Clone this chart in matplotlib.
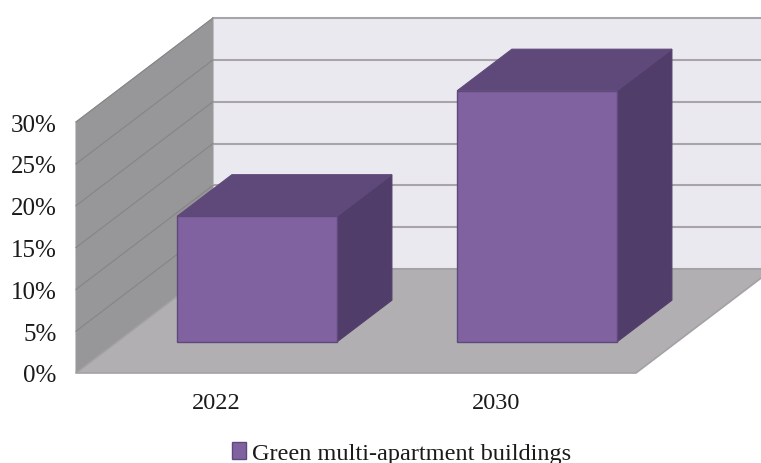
import matplotlib
matplotlib.use("Agg")
import matplotlib.pyplot as plt
from matplotlib.patches import Patch, Polygon

plt.rcParams["font.family"] = ["Liberation Serif", "DejaVu Serif"]

categories = ["2022", "2030"]
values = [15, 30]
series_name = "Green multi-apartment buildings"
y_ticks = [0, 5, 10, 15, 20, 25, 30]
y_labels = ["0%", "5%", "10%", "15%", "20%", "25%", "30%"]

W, H = 761, 464
fig = plt.figure(figsize=(W / 100, H / 100), dpi=100, facecolor="white")
ax = fig.add_axes([76 / W, (H - 374) / H, 560 / W, 251 / H])
ax.set_xlim(0, len(categories))
ax.set_ylim(0, 30)
ax.patch.set_visible(False)
for spine in ax.spines.values():
    spine.set_visible(False)

# Oblique projection: one unit of depth moves a point right and up the chart
DEPTH_X = 137 / 280
DEPTH_Y = 104 / 251 * 30


def project(x, y, d):
    return (x + d * DEPTH_X, y + d * DEPTH_Y)


def face(points, color, edge, lw=0.8, z=1):
    ax.add_patch(Polygon([project(*p) for p in points], closed=True, facecolor=color,
                         edgecolor=edge, linewidth=lw, clip_on=False, zorder=z,
                         joinstyle="miter"))


x_max = len(categories)

# Chart box: back wall, side wall and floor
face([(0, 0, 1), (x_max, 0, 1), (x_max, 30, 1), (0, 30, 1)], "#EBE9F0", "#EBE9F0", z=1)
face([(0, 0, 0), (0, 0, 1), (0, 30, 1), (0, 30, 0)], "#979799", "#9B9B9D", z=1)

for tick in y_ticks:
    back = [project(0, tick, 1), project(x_max, tick, 1)]
    side = [project(0, tick, 0), project(0, tick, 1)]
    ax.plot(*zip(*back), color="#A7A5AA", lw=1.5, clip_on=False, zorder=2)
    ax.plot(*zip(*side), color="#858587", lw=0.8, clip_on=False, zorder=2)

face([(0, 0, 0), (x_max, 0, 0), (x_max, 0, 1), (0, 0, 1)], "#B2AFB3", "#A3A1A5", lw=1.2, z=3)

# Columns
BAR_WIDTH = 160 / 280
DEPTH_NEAR, DEPTH_FAR = 0.3, 0.7
for i, value in enumerate(values):
    x0 = i + 0.5 - BAR_WIDTH / 2
    x1 = x0 + BAR_WIDTH
    face([(x1, 0, DEPTH_NEAR), (x1, 0, DEPTH_FAR), (x1, value, DEPTH_FAR), (x1, value, DEPTH_NEAR)],
         "#503D6A", "#503D6A", z=4)
    face([(x0, value, DEPTH_NEAR), (x1, value, DEPTH_NEAR), (x1, value, DEPTH_FAR), (x0, value, DEPTH_FAR)],
         "#5F497A", "#5F497A", z=4)
    face([(x0, 0, DEPTH_NEAR), (x1, 0, DEPTH_NEAR), (x1, value, DEPTH_NEAR), (x0, value, DEPTH_NEAR)],
         "#8062A0", "#5F497A", lw=1.0, z=5)

ax.set_yticks(y_ticks, y_labels)
ax.set_xticks([i + 0.5 for i in range(len(categories))], categories)
ax.tick_params(axis="y", length=0, pad=14, labelsize=18, labelcolor="#1a1a1a")
ax.tick_params(axis="x", length=0, pad=13.5, labelsize=17.5, labelcolor="#1a1a1a")

handle = Patch(facecolor="#8062A0", edgecolor="#5F497A", linewidth=1.0)
fig.legend([handle], [series_name], loc="lower center", bbox_to_anchor=(401.5 / W, -18 / H),
           frameon=False, fontsize=17.5, handlelength=0.58, handleheight=0.7, handletextpad=0.22,
           borderpad=0.2, labelcolor="#1a1a1a")

fig.savefig("out.png", dpi=100, facecolor="white")
